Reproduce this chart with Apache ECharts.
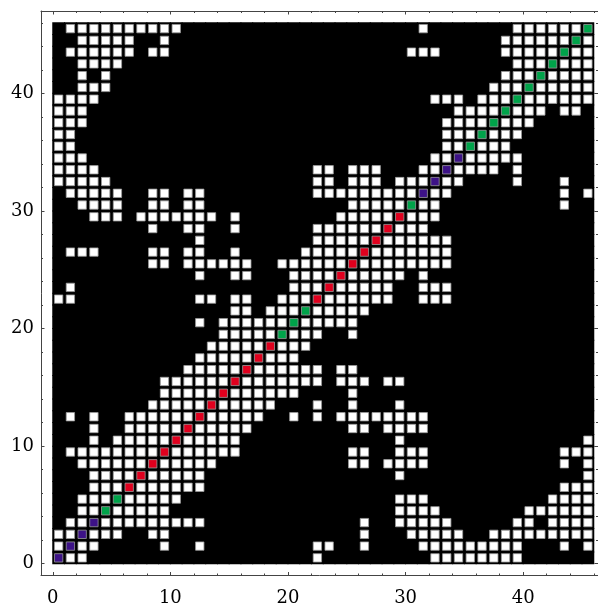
<!DOCTYPE html>
<html>
<head>
<meta charset="utf-8">
<script src="https://cdn.jsdelivr.net/npm/echarts@6/dist/echarts.min.js"></script>
<style>
html,body{margin:0;padding:0;background:#fff;}
#chart{width:598px;height:610px;}
</style>
</head>
<body>
<div id="chart"></div>
<script>
// Contact map rows, index = y value (row 0 at bottom). '.' = no contact, '#' = contact,
// diagonal: 'P' purple, 'G' green, 'R' red
const contactRows = [
  "P##......." + ".........." + "..#......." + "..########" + "......", // 0
  "#P##.....#" + "..#......." + "..##..#..." + ".#########" + "...#.#", // 1
  "##P###..##" + ".........." + "......#..." + "#####..###" + "######", // 2
  ".##P######" + "###......." + "......#..#" + "####.....#" + "#.####", // 3
  "..##G#####" + ".........." + ".........#" + "###......." + "######", // 4
  "..###G####" + "#........." + ".........#" + "##........" + "..####", // 5
  "...###R###" + "###......." + ".........." + ".........." + "...###", // 6
  "...####R##" + "###......." + ".........#" + ".........." + ".....#", // 7
  "..######R#" + "####......" + ".....##.##" + "##........" + "...#.#", // 8
  ".########R" + "######...." + ".....##..#" + "##........" + "...###", // 9
  "...#.#####" + "R#####...." + ".........#" + ".........." + ".....#", // 10
  "...#..####" + "#R#####..." + ".....##.##" + "##........" + "......", // 11
  ".#.#..####" + "##R#####.." + "#.#.######" + "##........" + "......", // 12
  "........##" + "###R#####." + "..#..#...#" + ".........." + "......", // 13
  ".........#" + "####R#####" + "#....#...." + ".........." + "......", // 14
  ".........#" + "#####R####" + "###.###.##" + ".........." + "......", // 15
  ".........." + ".#####R###" + "###.##...." + ".........." + "......", // 16
  ".........." + "..#####R##" + "#........." + ".........." + "......", // 17
  ".........." + "...#####R#" + "##........" + ".........." + "......", // 18
  ".........." + "....#####G" + "###..#...." + ".........." + "......", // 19
  ".........." + "..#.######" + "G#####...." + ".........." + "......", // 20
  ".........." + ".....##.##" + "#G#####..." + ".........." + "......", // 21
  "##........" + "..##.##..#" + "##R######." + ".###......" + "......", // 22
  ".#........" + ".........." + "###R#####." + ".###......" + "......", // 23
  ".........." + "..#..##..." + "####R#####" + ".#........" + "......", // 24
  "........##" + ".######..#" + "#####R####" + "####......" + "......", // 25
  ".###....##" + ".##..#...." + ".#####R###" + "####......" + "......", // 26
  ".........." + "..#......." + "..#####R##" + "####......" + "......", // 27
  "........#." + ".##..#...." + "..######R#" + "##........" + "......", // 28
  "...###.###" + "####.#...." + "....#####R" + "###......." + "......", // 29
  "..####..##" + ".##......." + ".....#####" + "G##......." + "...#..", // 30
  ".#####..##" + ".##......." + "..########" + "#P##......" + "...#.#", // 31
  "#####....." + ".........." + "..##.###.#" + "##P##....#" + "...#..", // 32
  "####......" + ".........." + "..##.###.." + ".##P####.#" + "......", // 33
  "###......." + ".........." + ".........." + "..##P#####" + "......", // 34
  "##........" + ".........." + ".........." + "...##G###." + "......", // 35
  "##........" + ".........." + ".........." + "...###G###" + "......", // 36
  "###......." + ".........." + ".........." + "...####G##" + "#.....", // 37
  "###......." + ".........." + ".........." + "....####G#" + "##.##.", // 38
  "####......" + ".........." + ".........." + "..###.###G" + "######", // 39
  "..###....." + ".........." + ".........." + ".......###" + "G#####", // 40
  "..#.#....." + ".........." + ".........." + "........##" + "#G####", // 41
  "..####...." + ".........." + ".........." + ".........#" + "##G###", // 42
  ".######.##" + ".........." + ".........." + "###.....##" + "###G##", // 43
  "..#####..#" + ".........." + ".........." + "........##" + "####G#", // 44
  ".#########" + "#........." + ".........." + ".#.......#" + "#####G"  // 45
];

const xMin = -1;
const xMax = 46.36;
const yMin = -1;
const yMax = 47;
const majorTicks = [0, 10, 20, 30, 40];
const minorTicks = [2, 4, 6, 8, 12, 14, 16, 18, 22, 24, 26, 28, 32, 34, 36, 38, 42, 44, 46];

const cellFill = {
  '#': '#ffffff',
  'P': '#3d1287',
  'G': '#00a34a',
  'R': '#e0001e'
};

const cells = [];
contactRows.forEach(function (row, j) {
  for (let i = 0; i < row.length; i++) {
    cells.push([i, j, row[i]]);
  }
});

const chart = echarts.init(document.getElementById('chart'), null, {renderer: 'canvas'});

const lineColor = '#444';
const fontFamily = 'DejaVu Serif';

function makeAxis(dim, position, ticks, tickLen, withLabels, withLine) {
  return {
    type: 'value',
    position: position,
    min: dim === 'x' ? xMin : yMin,
    max: dim === 'x' ? xMax : yMax,
    axisLine: {show: withLine, onZero: false, lineStyle: {color: lineColor, width: 1}},
    axisTick: {show: true, inside: true, length: tickLen, customValues: ticks,
               lineStyle: {color: lineColor, width: 1}},
    axisLabel: withLabels ? {
      show: true, customValues: majorTicks,
      margin: dim === 'x' ? 14 : 7,
      fontFamily: fontFamily, fontSize: 18, color: '#000'
    } : {show: false},
    splitLine: {show: false},
    minorTick: {show: false}
  };
}

const option = {
  backgroundColor: '#ffffff',
  animation: false,
  grid: {left: 41, top: 11, width: 557, height: 564.5, containLabel: false},
  xAxis: [
    makeAxis('x', 'bottom', majorTicks, 3.5, true, true),
    makeAxis('x', 'bottom', minorTicks, 2, false, false),
    makeAxis('x', 'top', majorTicks, 3.5, false, true),
    makeAxis('x', 'top', minorTicks, 2, false, false)
  ],
  yAxis: [
    makeAxis('y', 'left', majorTicks, 3.5, true, true),
    makeAxis('y', 'left', minorTicks, 2, false, false),
    makeAxis('y', 'right', majorTicks, 3.5, false, true),
    makeAxis('y', 'right', minorTicks, 2, false, false)
  ],
  series: [{
    type: 'custom',
    xAxisIndex: 0,
    yAxisIndex: 0,
    data: cells,
    clip: true,
    renderItem: function (params, api) {
      const d = cells[params.dataIndex];
      const i = d[0], j = d[1], code = d[2];
      const p0 = api.coord([i, j + 1]);
      const p1 = api.coord([i + 1, j]);
      const x = p0[0], y = p0[1], w = p1[0] - p0[0], h = p1[1] - p0[1];
      const children = [{
        type: 'rect',
        shape: {x: x - 0.5, y: y - 0.5, width: w + 1, height: h + 1},
        style: {fill: '#000000'}
      }];
      if (code !== '.') {
        const inset = 1.7;
        children.push({
          type: 'rect',
          shape: {x: x + inset, y: y + inset, width: w - 2 * inset, height: h - 2 * inset},
          style: {fill: cellFill[code], stroke: '#9a9a9a', lineWidth: 0.8}
        });
      }
      return {type: 'group', children: children};
    }
  }]
};

chart.setOption(option);
</script>
</body>
</html>
